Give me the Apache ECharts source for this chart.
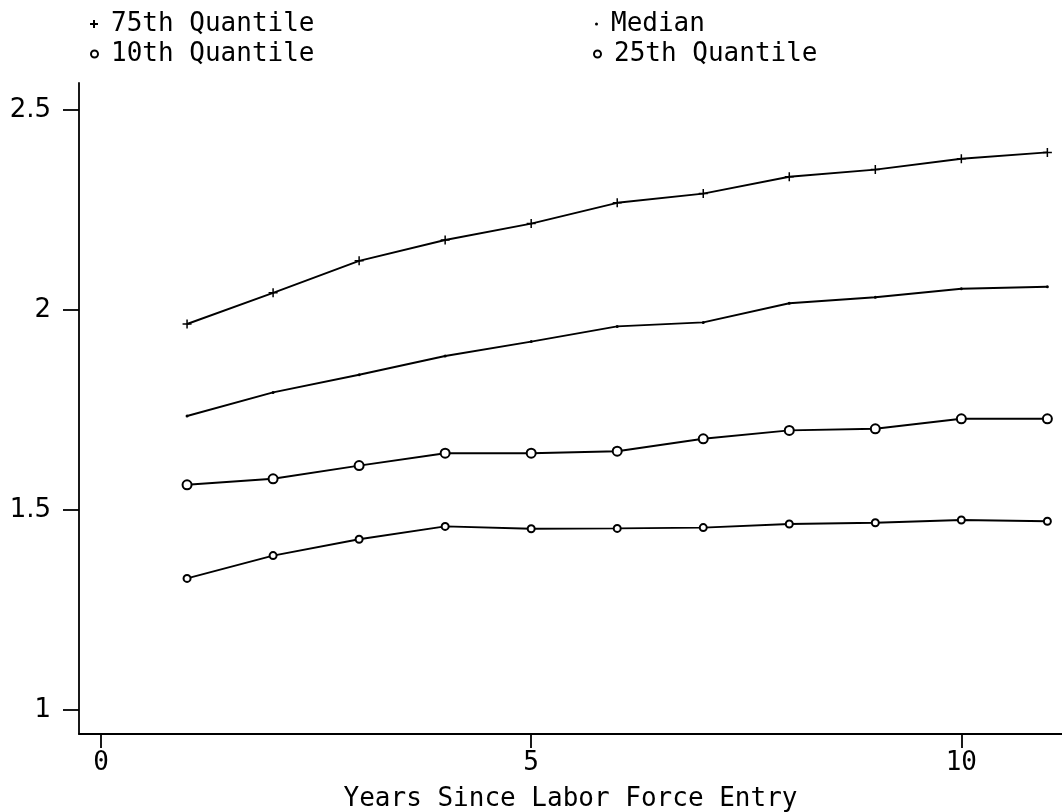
<!DOCTYPE html>
<html>
<head>
<meta charset="utf-8">
<script src="https://cdn.jsdelivr.net/npm/echarts@6/dist/echarts.min.js"></script>
<style>
  html, body { margin: 0; padding: 0; background: #fff; }
  #chart { width: 1062px; height: 812px; }
</style>
</head>
<body>
<div id="chart"></div>
<script>
// Log earnings quantiles by years since entering the labor force
var years = [1, 2, 3, 4, 5, 6, 7, 8, 9, 10, 11];
var q75 = [1.965, 2.043, 2.123, 2.175, 2.216, 2.268, 2.291, 2.333, 2.351, 2.378, 2.394];
var median = [1.735, 1.794, 1.838, 1.885, 1.921, 1.959, 1.969, 2.017, 2.032, 2.053, 2.058];
var q25 = [1.563, 1.578, 1.611, 1.642, 1.642, 1.647, 1.678, 1.699, 1.703, 1.728, 1.728];
var q10 = [1.329, 1.386, 1.427, 1.459, 1.453, 1.454, 1.456, 1.465, 1.468, 1.475, 1.472];

var yTicks = [1, 1.5, 2, 2.5];
var xTicks = [0, 5, 10];

var mono = 'DejaVu Sans Mono';
var plusPath = 'path://M0,5L10,5M5,0L5,10';

function pairs(ys) {
  return years.map(function (x, i) { return [x, ys[i]]; });
}

function lineSeries(name, ys, symbol, size, border) {
  return {
    name: name,
    type: 'line',
    data: pairs(ys),
    symbol: symbol,
    symbolSize: size,
    showAllSymbol: true,
    lineStyle: { color: '#000', width: 1.9 },
    itemStyle: { color: '#000', borderColor: '#000', borderWidth: border },
    emphasis: { disabled: true },
    animation: false
  };
}

function legendAt(name, left, top, icon, size) {
  return {
    data: [{ name: name, icon: icon }],
    left: left, top: top,
    itemWidth: size, itemHeight: size,
    itemGap: 0,
    textStyle: { fontFamily: mono, fontSize: 26, color: '#000', padding: [0, 0, 0, 8] },
    selectedMode: false
  };
}

var chart = echarts.init(document.getElementById('chart'), null, { renderer: 'canvas' });
chart.setOption({
  backgroundColor: '#fff',
  animation: false,
  legend: [
    legendAt('75th Quantile', 84, 6, plusPath, 8),
    legendAt('Median', 590, 6, 'circle', 3),
    legendAt('10th Quantile', 85, 36, 'emptyCircle', 7),
    legendAt('25th Quantile', 588, 36, 'emptyCircle', 7)
  ],
  grid: { left: 79, right: 0, top: 83, bottom: 78, containLabel: false, outerBoundsMode: 'none' },
  xAxis: {
    type: 'value',
    min: -0.256, max: 11.17,
    name: 'Years Since Labor Force Entry',
    nameLocation: 'middle',
    nameGap: 52,
    nameTextStyle: { fontFamily: mono, fontSize: 26, color: '#000' },
    axisLine: { show: true, onZero: false, lineStyle: { color: '#000', width: 1.8 } },
    axisTick: { show: true, length: 14, customValues: xTicks, lineStyle: { color: '#000', width: 1.8 } },
    axisLabel: { customValues: xTicks, fontFamily: mono, fontSize: 26, color: '#000', margin: 16 },
    splitLine: { show: false }
  },
  yAxis: {
    type: 'value',
    min: 0.94, max: 2.5675,
    axisLine: { show: true, onZero: false, lineStyle: { color: '#000', width: 1.8 } },
    axisTick: { show: true, length: 16, customValues: yTicks, lineStyle: { color: '#000', width: 1.8 } },
    axisLabel: {
      customValues: yTicks, fontFamily: 'DejaVu Sans', fontSize: 26, color: '#000', margin: 28,
      formatter: function (v) { return String(v); }
    },
    splitLine: { show: false }
  },
  series: [
    lineSeries('75th Quantile', q75, plusPath, 9, 1.5),
    lineSeries('Median', median, 'circle', 3, 0),
    lineSeries('10th Quantile', q10, 'emptyCircle', 7, 1.8),
    lineSeries('25th Quantile', q25, 'emptyCircle', 9, 1.7)
  ]
});
</script>
</body>
</html>
